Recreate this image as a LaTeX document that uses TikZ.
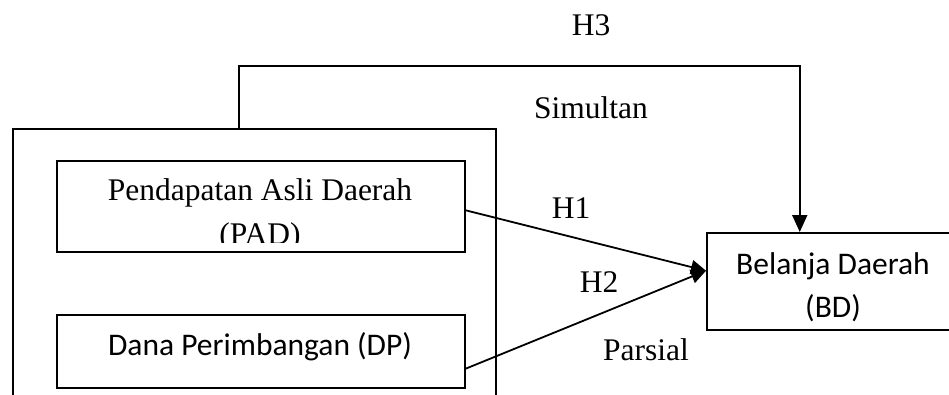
\documentclass[tikz,border=0pt]{standalone}
\usepackage{fontspec}
\setmainfont{Liberation Serif}
\newfontfamily\calib{Carlito}
\usetikzlibrary{arrows.meta}
\tikzset{
  boxnode/.style={draw, line width=1.5pt, rectangle, inner sep=0pt, anchor=north west},
  conn/.style={line width=1.8pt},
  txt/.style={inner sep=0pt, anchor=base, font=\fontsize{31.5}{40}\selectfont},
  sanstxt/.style={inner sep=0pt, anchor=base, font=\calib\fontsize{31.5}{40}\selectfont},
  tipA/.style={-{Triangle[length=15pt,width=14pt]}},
  tipB/.style={-{Triangle[length=17pt,width=15pt]}}
}
\begin{document}
\begin{tikzpicture}[x=1pt,y=-1pt]
\useasboundingbox (0,0) rectangle (949,394);
\clip (0,0) rectangle (949,394);
% boxes
\node[boxnode, minimum width=483pt, minimum height=300pt] (outer) at (12,128) {};
\node[boxnode, fill=white, minimum width=408pt, minimum height=91pt] (pad) at (56,160) {};
\node[boxnode, fill=white, minimum width=408pt, minimum height=73pt] (dp) at (56,314) {};
\node[boxnode, minimum width=260pt, minimum height=97pt] (bd) at (706,232) {};
% texts in boxes
\node[txt] (padA) at (260,200) {Pendapatan Asli Daerah};
\begin{scope}
\clip (56,160) rectangle (464,242);
\node[txt] (padB) at (260,244) {(PAD)};
\end{scope}
\node[sanstxt] (dpA) at (260,355) {Dana Perimbangan (DP)};
\node[sanstxt] (bdA) at (833,274) {Belanja Daerah};
\node[sanstxt] (bdB) at (833,317) {(BD)};
% labels
\node[txt] (h3) at (591,35) {H3};
\node[txt] (sim) at (591,118) {Simultan};
\node[txt] (h1) at (571,218) {H1};
\node[txt] (h2) at (599,292) {H2};
\node[txt] (par) at (646,360) {Parsial};
% connectors
\coordinate (tip) at ([yshift=10.5pt]bd.west);
\draw[conn, tipA] ([yshift=-4pt]pad.east) -- (tip);
\draw[conn, tipA] ([yshift=-17.5pt]dp.east) -- (tip);
\draw[conn, tipB] ([xshift=-15.5pt]outer.north) -- ++(0,-62) -| ([xshift=-37pt]bd.north);
\end{tikzpicture}
\end{document}
